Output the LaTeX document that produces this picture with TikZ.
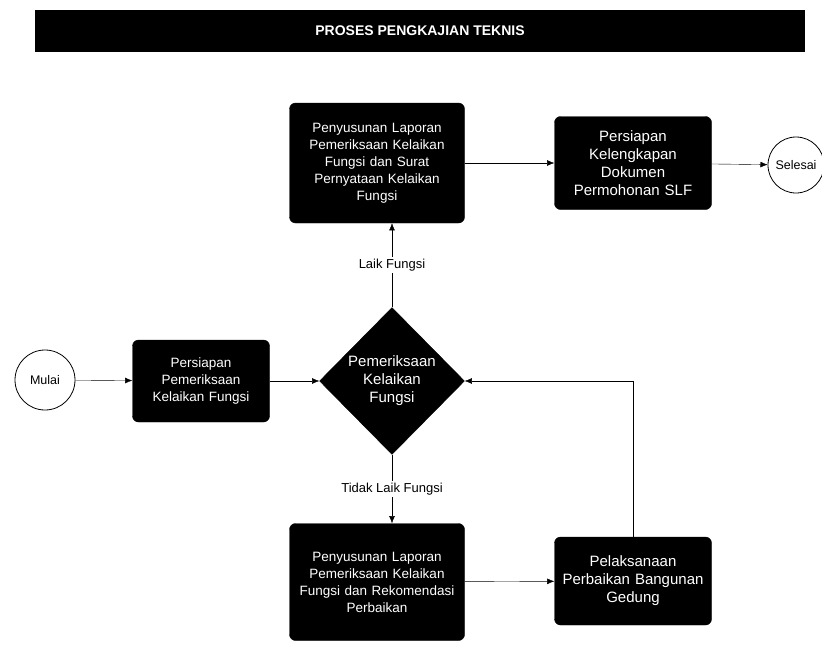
\documentclass[tikz,border=0pt]{standalone}
\usepackage{fontspec}
\setmainfont{Liberation Sans}
\usetikzlibrary{arrows.meta, positioning, shapes.geometric}

\begin{document}
\begin{tikzpicture}[
        x=1pt, y=-1pt,
        font=\fontsize{13.5}{17}\selectfont,
        every node/.style = {align=center},
        box/.style = {rectangle, rounded corners=6pt, draw=black, fill=black,
                      text=white, minimum width=175pt, minimum height=120pt,
                      text width=172pt, inner sep=1pt},
        decide/.style = {diamond, draw=black, fill=black, text=white,
                         minimum width=145pt, minimum height=147pt, inner sep=0pt,
                         font=\fontsize{15}{18}\selectfont},
        term/.style = {circle, draw=black, thick, fill=white, minimum size=58pt,
                       inner sep=0pt, font=\fontsize{12.5}{15}\selectfont},
        arrow/.style = {-{Latex[length=2.5mm, width=2mm]}, draw=black},
        lbl/.style = {fill=white, inner sep=2pt, font=\fontsize{13}{15}\selectfont}
    ]
    \useasboundingbox (0,0) rectangle (822,645);

    % --- Title bar ---
    \node[rectangle, fill=black, text=white, minimum width=770pt, minimum height=42pt,
          font=\fontsize{14}{16}\selectfont\bfseries] (title) at (420,31) {PROSES PENGKAJIAN TEKNIS};

    % --- Main line ---
    \node[term, minimum size=60pt] (mulai) at (45,380) {Mulai};
    \node[box, minimum width=137pt, minimum height=82pt, text width=135pt] (siap) at (201,381)
        {Persiapan\\Pemeriksaan\\Kelaikan Fungsi};
    \node[decide] (cek) at (392,381) {Pemeriksaan\\Kelaikan\\Fungsi};

    % --- Laik branch ---
    \node[box] (susunlaik) at (377,163)
        {Penyusunan Laporan\\Pemeriksaan Kelaikan\\Fungsi dan Surat\\Pernyataan Kelaikan\\Fungsi};
    \node[box, minimum width=157pt, minimum height=93pt, text width=155pt,
          font=\fontsize{15}{18}\selectfont] (dokumen) at (633,163)
        {Persiapan\\Kelengkapan\\Dokumen\\Permohonan SLF};
    \node[term, minimum size=56pt] (selesai) at (796,165) {Selesai};

    % --- Tidak laik branch ---
    \node[box, minimum height=117pt] (susuntidak) at (377,582)
        {Penyusunan Laporan\\Pemeriksaan Kelaikan\\Fungsi dan Rekomendasi\\Perbaikan};
    \node[box, minimum width=157pt, minimum height=88pt, text width=155pt,
          font=\fontsize{15}{18}\selectfont] (perbaikan) at (633,581)
        {Pelaksanaan\\Perbaikan Bangunan\\Gedung};

    % --- Arrows ---
    \draw[arrow] (mulai) -- (siap);
    \draw[arrow] (siap) -- (cek);
    \draw[arrow] (cek.north) -- node[lbl, pos=0.5]{Laik Fungsi} (cek.north |- susunlaik.south);
    \draw[arrow] (susunlaik) -- (dokumen);
    \draw[arrow] (dokumen) -- (selesai);
    \draw[arrow] (cek.south) -- node[lbl, pos=0.5]{Tidak Laik Fungsi} (cek.south |- susuntidak.north);
    \draw[arrow] (susuntidak) -- (perbaikan);
    \draw[arrow] (perbaikan.north) |- (cek.east);

\end{tikzpicture}
\end{document}
